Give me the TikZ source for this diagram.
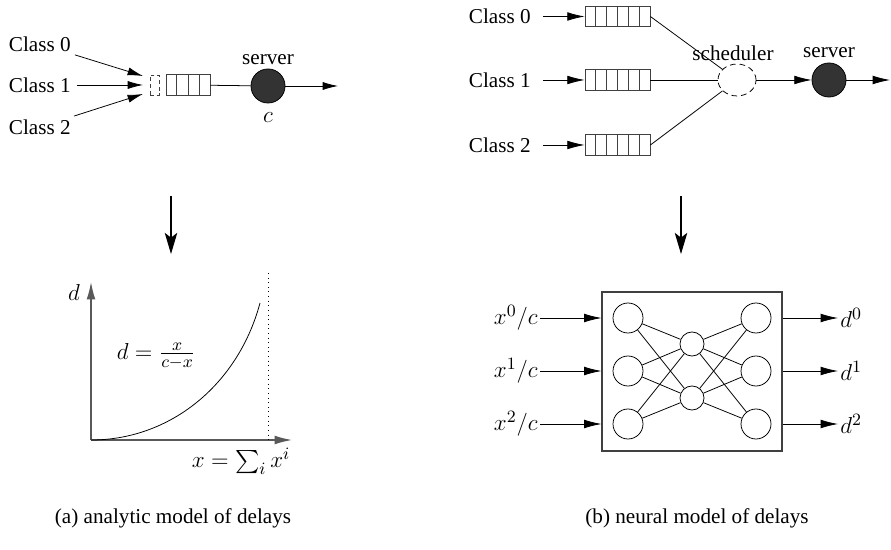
\documentclass[tikz,border=0pt]{standalone}
\usepackage{amsmath}
\usepackage{fontspec}
\setmainfont{Liberation Serif}
\usepackage{tikz}
\usetikzlibrary{arrows.meta}
\usetikzlibrary{calc}
\usetikzlibrary{shapes.geometric}

\tikzset{
  txt/.style={font=\fontsize{11}{13}\selectfont, inner sep=1pt},
  mth/.style={font=\fontsize{12.5}{15}\selectfont, inner sep=1pt},
  queue/.style={draw=black!75, minimum height=10.6pt, inner sep=0pt},
  srv/.style={circle, draw, fill=black!80, minimum size=17.7pt, inner sep=0pt},
  neuron/.style={circle, draw, minimum size=15.6pt, inner sep=0pt},
  hidden/.style={circle, draw, minimum size=12.5pt, inner sep=0pt},
  axis/.style={draw=black!65, line width=0.6pt},
  down/.style={->, line width=0.6pt, >={Stealth[length=11pt, width=6.5pt, inset=2.5pt]}},
  big/.style={->, >={Latex[length=9pt, width=4.5pt]}},
}

\begin{document}
\begin{tikzpicture}[x=0.52pt, y=-0.52pt, >={Latex[length=8pt, width=4.2pt]}]
\useasboundingbox (0,0) rectangle (891,550);

% (a) one queue for all classes
\node[draw=black!75, dash pattern=on 2pt off 1.5pt, minimum width=4.7pt, minimum height=10.4pt, inner sep=0pt] (lslot) at (154.5,85) {};
\node[queue, minimum width=22.9pt] (lq) at (188,85) {};
\foreach \i in {1,2,3}
  \draw[black!75] ($(lq.north west)!\i/4!(lq.north east)$) -- ($(lq.south west)!\i/4!(lq.south east)$);
\foreach \k/\y/\t in {0/44/76, 1/85/85, 2/127/94} {
  \node[txt, anchor=east] (lc\k) at (73,\y) {Class \k};
  \coordinate (lt\k) at (143,\t);
  \draw[->, shorten <=2pt] (lc\k) -- (lt\k);
}
\node[srv] (lsrv) at (268,86) {};
\node[txt] (lsrvlbl) at (268,60) {server};
\node[mth] (lcap) at (268,118) {$c$};
\coordinate (lout) at (338,86);
\draw (lq) -- (lsrv);
\draw[->] (lsrv) -- (lout);

% (b) one queue per class
\node[ellipse, draw, dash pattern=on 3pt off 2pt, minimum width=19.8pt, minimum height=16.6pt, inner sep=0pt] (sched) at (737,80) {};
\node[txt] (schedlbl) at (733,53) {scheduler};
\foreach \k/\y in {0/16.5, 1/80, 2/145} {
  \node[txt, anchor=east] (rc\k) at (533,\y) {Class \k};
  \node[queue, minimum width=33.8pt] (rq\k) at (617.5,\y) {};
  \foreach \i in {1,...,5}
    \draw[black!75] ($(rq\k.north west)!\i/6!(rq\k.north east)$) -- ($(rq\k.south west)!\i/6!(rq\k.south east)$);
  \draw[big, shorten <=5pt] (rc\k) -- (rq\k);
  \draw (rq\k.east) -- (sched);
}
\node[srv] (rsrv) at (829,80) {};
\node[txt] (rsrvlbl) at (829,53) {server};
\coordinate (rout) at (890,80);
\draw[big] (sched) -- (rsrv);
\draw[big] (rsrv) -- (rout);

% arrows down
\coordinate (la0) at (171,196);
\coordinate (la1) at (171,254);
\coordinate (ra0) at (681,196);
\coordinate (ra1) at (681,254);
\draw[down] (la0) -- (la1);
\draw[down] (ra0) -- (ra1);

% analytic curve
\coordinate (o) at (91,440);
\coordinate (ytip) at (91,282);
\coordinate (xtip) at (292,440);
\coordinate (asy0) at (268,273);
\coordinate (asy1) at (268,440);
\draw[axis, big] (o) -- (ytip);
\draw[axis, big] (o) -- (xtip);
\draw[dotted] (asy0) -- (asy1);
\draw (o) .. controls (170,440) and (238,385) .. (260,303);
\node[mth] (dlbl) at (74,292) {$d$};
\node[mth] (dform) at (156,356) {$d=\frac{x}{c-x}$};
\node[mth] (xform) at (241,461) {$x=\sum_i x^i$};

% neural model
\node[draw=black!75, line width=0.6pt, minimum width=93.6pt, minimum height=82.7pt, inner sep=0pt] (nn) at (692,371.5) {};
\node[hidden] (h0) at (692,344) {};
\node[hidden] (h1) at (692,398) {};
\foreach \k/\y in {0/318, 1/371, 2/424} {
  \node[neuron] (i\k) at (628,\y) {};
  \node[neuron] (o\k) at (756,\y) {};
  \node[mth, anchor=east] (x\k) at (540,\y) {$x^{\k}/c$};
  \node[mth, anchor=west] (d\k) at (838,\y) {$d^{\k}$};
  \draw[big] (x\k) -- (x\k.east -| nn.west);
  \draw[big] (o\k -| nn.east) -- (d\k);
  \foreach \j in {0,1} {
    \draw (i\k) -- (h\j);
    \draw (h\j) -- (o\k);
  }
}

\node[txt] (capa) at (173,518) {(a) analytic model of delays};
\node[txt] (capb) at (697,518) {(b) neural model of delays};
\end{tikzpicture}
\end{document}
